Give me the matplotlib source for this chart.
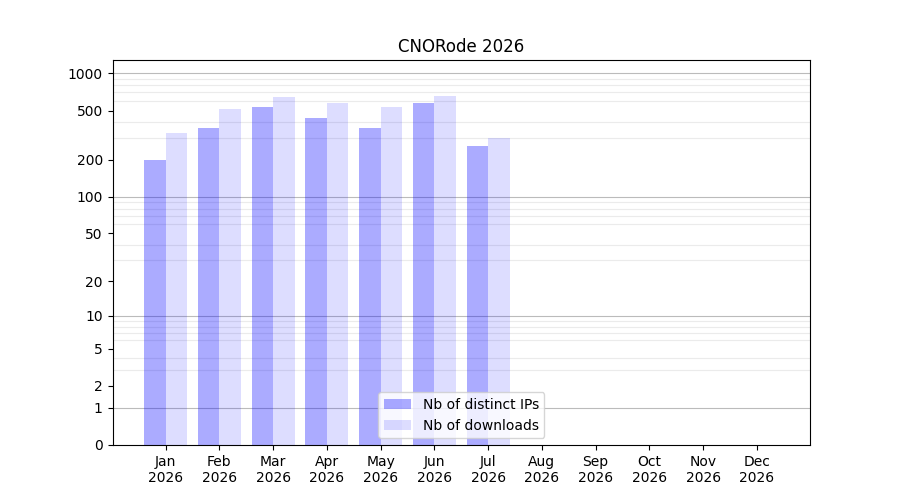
import numpy as np
import matplotlib
matplotlib.use("Agg")
import matplotlib.pyplot as plt
from matplotlib.ticker import FixedLocator, FixedFormatter

months = ["Jan", "Feb", "Mar", "Apr", "May", "Jun", "Jul", "Aug", "Sep", "Oct", "Nov", "Dec"]
year = "2026"
distinct_ips = [198, 359, 531, 433, 359, 572, 257, 0, 0, 0, 0, 0]
downloads = [327, 512, 640, 572, 531, 653, 298, 0, 0, 0, 0, 0]
ytick_values = [0, 1, 2, 5, 10, 20, 50, 100, 200, 500, 1000]
dark_grid = [1, 10, 100, 1000]

fig, ax = plt.subplots(figsize=(9, 5), dpi=100)

def fwd(y):
    return np.log10(np.asarray(y) + 1.0)

def inv(y):
    return 10.0 ** np.asarray(y) - 1.0

x = np.arange(len(months))
w = 0.4
ax.bar(x, distinct_ips, width=-w, align="edge", color="blue", alpha=0.33,
       label="Nb of distinct IPs", zorder=2)
ax.bar(x, downloads, width=w, align="edge", color="blue", alpha=0.135,
       label="Nb of downloads", zorder=2)

ax.set_yscale("function", functions=(fwd, inv))
ax.set_ylim(0, 1280)

ax.yaxis.set_major_locator(FixedLocator(ytick_values))
ax.yaxis.set_major_formatter(FixedFormatter([str(v) for v in ytick_values]))
minor = []
for dec in [1, 10, 100]:
    for k in range(2, 10):
        minor.append(k * dec)
ax.yaxis.set_minor_locator(FixedLocator(minor))
ax.tick_params(axis="y", which="minor", length=0)
ax.grid(axis="y", which="minor", color="#ebebeb", linewidth=0.8, zorder=0)
for v in dark_grid:
    ax.axhline(v, color="#bbbbbb", linewidth=0.8, zorder=1)

ax.set_xticks(x)
ax.set_xticklabels([f"{m}\n{year}" for m in months])
ax.set_title("CNORode 2026")
ax.legend(loc="lower center")

fig.savefig("out.png", dpi=100)
